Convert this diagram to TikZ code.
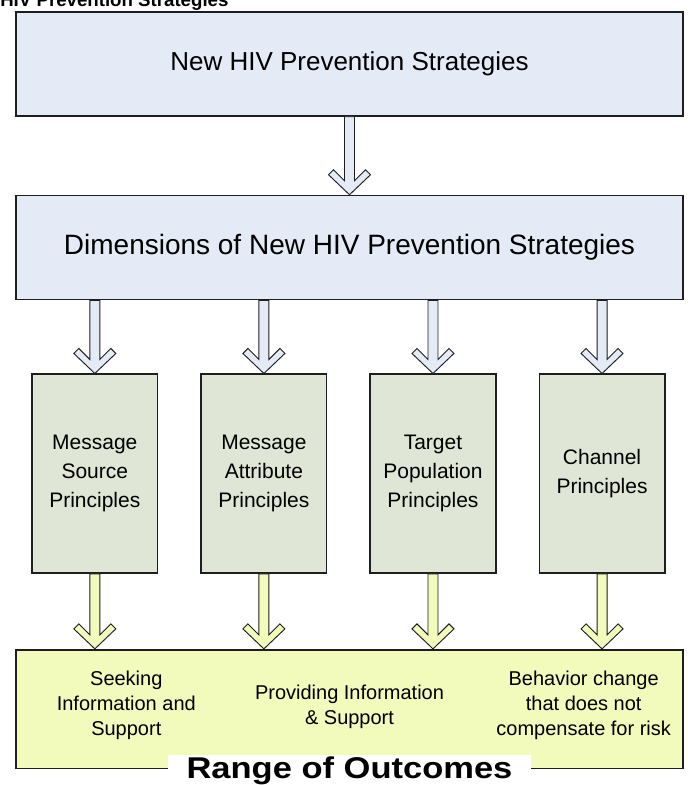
\documentclass[tikz,border=0pt]{standalone}
\usepackage{fontspec}
\setmainfont{Liberation Sans}
\usepackage{xcolor}
\usepackage{graphicx}
\usetikzlibrary{positioning, calc}

\definecolor{stratblue}{RGB}{228,235,246}
\definecolor{principlegreen}{RGB}{223,230,214}
\definecolor{outcomeyellow}{RGB}{242,250,188}
\definecolor{edgegray}{RGB}{30,30,30}

% block arrow with a chevron head: #1 tail point, #2 tip point, #3 fill
\newcommand{\chevronarrow}[3]{%
  \draw[arrowline, fill=#3] let \p1 = #1, \p2 = #2 in
    (\x1-3.75pt,\y1) -- (\x1-3.75pt,\y2+10.5pt) -- (\x1-12pt,\y2+18.75pt)
    -- (\x1-15.75pt,\y2+15pt) -- (\x2,\y2) -- (\x1+15.75pt,\y2+15pt)
    -- (\x1+12pt,\y2+18.75pt) -- (\x1+3.75pt,\y2+10.5pt) -- (\x1+3.75pt,\y1) -- cycle;
}

\begin{document}
\begin{tikzpicture}[
    stratbox/.style={draw=edgegray, line width=1.3pt, fill=stratblue, minimum width=500pt, minimum height=78pt},
    principle/.style={draw=edgegray, line width=1.3pt, fill=principlegreen, minimum width=94pt, minimum height=149pt, align=center, font=\fontsize{15.75}{21.75}\selectfont},
    outcomebox/.style={draw=edgegray, line width=1.3pt, fill=outcomeyellow, minimum width=500pt, minimum height=89pt},
    outtext/.style={align=center, font=\fontsize{15}{18.75}\selectfont},
    arrowline/.style={draw=edgegray, line width=0.7pt, line join=miter}
]
    \useasboundingbox (0,0) rectangle (515.25pt,-588.75pt);

    \node[anchor=base west, inner sep=0pt, font=\bfseries\fontsize{14}{16}\selectfont] (figtitle) at (0pt,-5.25pt) {HIV Prevention Strategies};

    \node[stratbox, anchor=north, font=\fontsize{19.5}{22}\selectfont] (newstrat) at (262.125pt,-8.25pt) {New HIV Prevention Strategies};
    \node[stratbox, below=58.5pt of newstrat, font=\fontsize{21}{24}\selectfont] (dims) {Dimensions of New HIV Prevention Strategies};

    % the four kinds of principles
    \node[principle, below right=54.75pt and 12pt of dims.south west] (msgsource) {Message\\Source\\Principles};
    \node[principle, right=31.5pt of msgsource] (msgattr) {Message\\Attribute\\Principles};
    \node[principle, right=31.5pt of msgattr] (targetpop) {Target\\Population\\Principles};
    \node[principle, right=31.5pt of targetpop] (channel) {Channel\\Principles};

    \coordinate (midbase) at (dims.south |- msgsource.south);
    \node[outcomebox, below=56.25pt of midbase] (outcomes) {};
    \node[outtext] (seekinfo) at ([xshift=83.25pt,yshift=3pt]outcomes.west) {Seeking\\Information and\\Support};
    \node[outtext] (provideinfo) at ([yshift=1.5pt]outcomes.center) {Providing Information\\\& Support};
    \node[outtext] (riskchange) at ([xshift=-75pt,yshift=3pt]outcomes.east) {Behavior change\\that does not\\compensate for risk};
    \node[fill=white, inner sep=0pt, minimum width=272pt, text height=18pt, text depth=6pt, anchor=north,
          font=\bfseries\fontsize{22.5}{26}\selectfont] (rangetitle) at ([yshift=11pt]outcomes.south) {\scalebox{1.15}[1]{Range of Outcomes}};

    % arrows
    \chevronarrow{(newstrat.south)}{(dims.north)}{stratblue}
    \foreach \col in {msgsource, msgattr, targetpop, channel} {
        \chevronarrow{(dims.south -| \col.north)}{(\col.north)}{stratblue}
        \chevronarrow{(\col.south)}{(\col.south |- outcomes.north)}{outcomeyellow}
    }
\end{tikzpicture}
\end{document}
